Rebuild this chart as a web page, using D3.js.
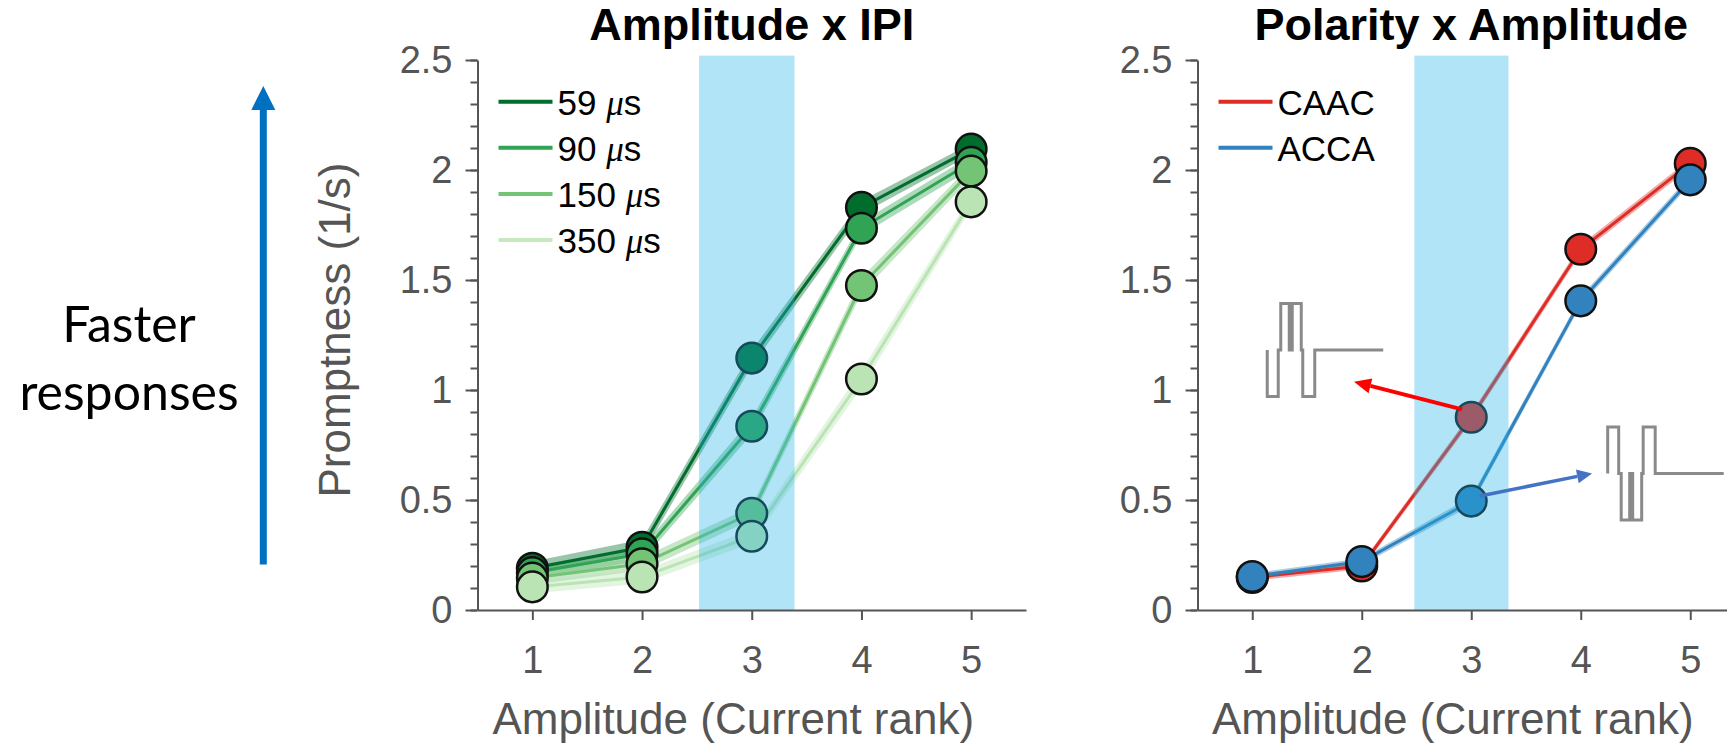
<!DOCTYPE html>
<html>
<head>
<meta charset="utf-8">
<script src="https://cdn.jsdelivr.net/npm/d3@7"></script>
<style>
  body { margin: 0; background: #fff; }
  svg { display: block; font-family: "Liberation Sans", Arial, sans-serif; }
</style>
</head>
<body>
<div id="chart"></div>
<script>
// ---- data ----
const ranks = [1, 2, 3, 4, 5];
const yTicks = [0, 0.5, 1, 1.5, 2, 2.5];

// Amplitude x IPI (promptness, 1/s)
const ipiNames = ["59", "90", "150", "350"];
const ipiColors = ["#006d2c", "#31a354", "#74c476", "#bae4b3"];
const ipi59 = [0.19, 0.285, 1.145, 1.83, 2.095];
const ipi90 = [0.17, 0.255, 0.835, 1.735, 2.035];
const ipi150 = [0.145, 0.21, 0.44, 1.475, 1.995];
const ipi350 = [0.105, 0.15, 0.335, 1.05, 1.855];
const ipi59Err = [0.03, 0.035, 0.035, 0.03, 0.025];
const ipi90Err = [0.03, 0.03, 0.035, 0.03, 0.03];
const ipi150Err = [0.03, 0.03, 0.03, 0.035, 0.03];
const ipi350Err = [0.03, 0.03, 0.03, 0.04, 0.03];

// Polarity x Amplitude
const polNames = ["CAAC", "ACCA"];
const polColors = ["#de2d26", "#3182bd"];
const caac = [0.148, 0.2, 0.876, 1.64, 2.03];
const acca = [0.152, 0.22, 0.495, 1.405, 1.955];
const caacErr = [0.015, 0.015, 0.02, 0.02, 0.02];
const accaErr = [0.015, 0.015, 0.02, 0.02, 0.02];

const W = 1727, H = 745;
const axisColor = "#555";

const svg = d3.select("#chart").append("svg")
  .attr("width", W)
  .attr("height", H);

function drawPanel(cfg) {
  const x = d3.scaleLinear().domain([0.5, 5.5]).range([cfg.left, cfg.right]);
  const y = d3.scaleLinear().domain([0, 2.5]).range([610, 60]);
  const g = svg.append("g");

  const series = cfg.series.map(s => ({
    ...s,
    pts: ranks.map((r, i) => ({ r, v: s.values[i], e: s.err[i] }))
  }));

  const area = d3.area()
    .x(d => x(d.r))
    .y0(d => y(d.v - d.e))
    .y1(d => y(d.v + d.e));
  const line = d3.line()
    .x(d => x(d.r))
    .y(d => y(d.v));

  // error bands
  g.selectAll(".band")
    .data(series)
    .join("path")
    .attr("class", "band")
    .attr("d", d => area(d.pts))
    .attr("fill", d => d.color)
    .attr("opacity", 0.4);

  // mean lines
  g.selectAll(".mean")
    .data(series)
    .join("path")
    .attr("class", "mean")
    .attr("d", d => line(d.pts))
    .attr("fill", "none")
    .attr("stroke", d => d.color)
    .attr("stroke-width", 3);

  // markers, later series on top
  series.forEach(s => {
    g.append("g").selectAll("circle")
      .data(s.pts)
      .join("circle")
      .attr("cx", d => x(d.r))
      .attr("cy", d => y(d.v))
      .attr("r", 15.3)
      .attr("fill", s.color)
      .attr("stroke", "#111")
      .attr("stroke-width", 2.5);
  });

  // highlighted rank 3 (translucent overlay on top of the data)
  g.append("rect")
    .attr("x", x(cfg.shade[0]))
    .attr("width", x(cfg.shade[1]) - x(cfg.shade[0]))
    .attr("y", y(2.52))
    .attr("height", y(0) - y(2.52))
    .attr("fill", "#1fb2e5")
    .attr("opacity", 0.35);

  // axes
  const yMinor = g.append("g")
    .attr("transform", `translate(${cfg.left},0)`)
    .call(d3.axisLeft(y).tickValues(d3.range(0, 26).map(i => i / 10)).tickSize(7).tickFormat(""));
  yMinor.select(".domain").remove();

  const yAxis = g.append("g")
    .attr("transform", `translate(${cfg.left},0)`)
    .call(d3.axisLeft(y).tickValues(yTicks).tickSize(12).tickSizeOuter(0).tickPadding(13).tickFormat(d3.format("")));

  const xAxis = g.append("g")
    .attr("transform", `translate(0,${y(0)})`)
    .call(d3.axisBottom(x).tickValues(ranks).tickSize(10).tickSizeOuter(0).tickPadding(26).tickFormat(d3.format("d")));

  [yMinor, yAxis, xAxis].forEach(a => {
    a.selectAll("line").attr("stroke", axisColor).attr("stroke-width", 2);
    a.selectAll(".domain").attr("stroke", axisColor).attr("stroke-width", 2);
    a.selectAll("text")
      .attr("fill", axisColor)
      .style("font-size", "38px")
      .style("font-family", "'Liberation Sans', Arial, sans-serif");
  });

  // title
  g.append("text")
    .attr("x", (cfg.left + cfg.right) / 2)
    .attr("y", 40)
    .attr("text-anchor", "middle")
    .style("font-size", "45px")
    .style("font-weight", "bold")
    .attr("fill", "#000")
    .text(cfg.title);

  // x label
  g.append("text")
    .attr("x", (cfg.left + cfg.right) / 2 - 18.5)
    .attr("y", 734)
    .attr("text-anchor", "middle")
    .style("font-size", "44px")
    .attr("fill", axisColor)
    .text("Amplitude (Current rank)");

  // legend
  const leg = g.append("g");
  series.forEach((s, i) => {
    const ly = 101.7 + i * 46.1;
    leg.append("line")
      .attr("x1", cfg.left + 21).attr("x2", cfg.left + 75)
      .attr("y1", ly).attr("y2", ly)
      .attr("stroke", s.legendColor || s.color)
      .attr("stroke-width", 4);
    const t = leg.append("text")
      .attr("x", cfg.left + 80)
      .attr("y", ly + 13)
      .style("font-size", "35px")
      .attr("fill", "#000");
    if (s.unit) {
      t.append("tspan").text(s.name + " ");
      t.append("tspan")
        .style("font-family", "'Liberation Serif', serif")
        .style("font-style", "italic")
        .text("\u03bc");
      t.append("tspan").text("s");
    } else {
      t.text(s.name);
    }
  });

  return { x, y, g };
}

// ---- left panel ----
const left = drawPanel({
  left: 477.5, right: 1026,
  title: "Amplitude x IPI",
  shade: [2.52, 3.39],
  series: [
    { name: ipiNames[0], values: ipi59, err: ipi59Err, color: ipiColors[0], unit: true },
    { name: ipiNames[1], values: ipi90, err: ipi90Err, color: ipiColors[1], unit: true },
    { name: ipiNames[2], values: ipi150, err: ipi150Err, color: ipiColors[2], unit: true },
    { name: ipiNames[3], values: ipi350, err: ipi350Err, color: ipiColors[3], legendColor: "#c7e9c0", unit: true }
  ]
});

// y label (left panel only)
svg.append("text")
  .attr("transform", "translate(350,330) rotate(-90)")
  .attr("text-anchor", "middle")
  .style("font-size", "44px")
  .attr("fill", axisColor)
  .text("Promptness (1/s)");

// ---- right panel ----
const right = drawPanel({
  left: 1197.5, right: 1745,
  title: "Polarity x Amplitude",
  shade: [2.48, 3.34],
  series: [
    { name: polNames[0], values: caac, err: caacErr, color: polColors[0] },
    { name: polNames[1], values: acca, err: accaErr, color: polColors[1] }
  ]
});

// pulse-shape icons (px template, +1 = first phase downward)
const pulseSteps = [[0, 0], [0, 1], [11, 1], [11, 0], [13.5, 0], [13.5, -1], [22, -1], [22, 0],
  [25, 0], [25, -1], [34, -1], [34, 0], [35.5, 0], [35.5, 1], [47.5, 1], [47.5, 0], [116, 0]];

function drawPulse(ax, at, sign) {
  const ox = ax.x(at[0]), oy = ax.y(at[1]);
  ax.g.append("path")
    .attr("d", d3.line()(pulseSteps.map(p => [ox + p[0], oy + sign * p[1] * 46.5])))
    .attr("fill", "none")
    .attr("stroke", "#8a8a8a")
    .attr("stroke-width", 3);
}
drawPulse(right, [1.137, 1.182], 1);   // CAAC
drawPulse(right, [4.246, 0.621], -1);  // ACCA

function drawArrow(ax, from, to, color, width, headLen, headW) {
  const x1 = ax.x(from[0]), y1 = ax.y(from[1]);
  const x2 = ax.x(to[0]), y2 = ax.y(to[1]);
  const a = Math.atan2(y2 - y1, x2 - x1);
  const bx = x2 - headLen * Math.cos(a), by = y2 - headLen * Math.sin(a);
  ax.g.append("line")
    .attr("x1", x1).attr("y1", y1).attr("x2", bx).attr("y2", by)
    .attr("stroke", color).attr("stroke-width", width);
  const px = -Math.sin(a) * headW / 2, py = Math.cos(a) * headW / 2;
  ax.g.append("path")
    .attr("d", `M${x2},${y2}L${bx + px},${by + py}L${bx - px},${by - py}Z`)
    .attr("fill", color);
}
drawArrow(right, [2.916, 0.912], [1.929, 1.038], "#ff0000", 4, 17, 15);
drawArrow(right, [3.08, 0.518], [4.103, 0.621], "#4472c4", 3.5, 15, 14);

// ---- "Faster responses" annotation ----
svg.append("line")
  .attr("x1", 263.3).attr("x2", 263.3)
  .attr("y1", 564.5).attr("y2", 108)
  .attr("stroke", "#0070c0")
  .attr("stroke-width", 7);
svg.append("path")
  .attr("d", "M263.3,86L251.3,110L275.3,110Z")
  .attr("fill", "#0070c0");

const note = svg.append("text")
  .attr("text-anchor", "middle")
  .style("font-family", "Lato, 'Open Sans', sans-serif")
  .style("font-size", "50px")
  .attr("fill", "#000");
note.append("tspan").attr("x", 129).attr("y", 342).text("Faster");
note.append("tspan").attr("x", 129).attr("y", 409.5).text("responses");
</script>
</body>
</html>
